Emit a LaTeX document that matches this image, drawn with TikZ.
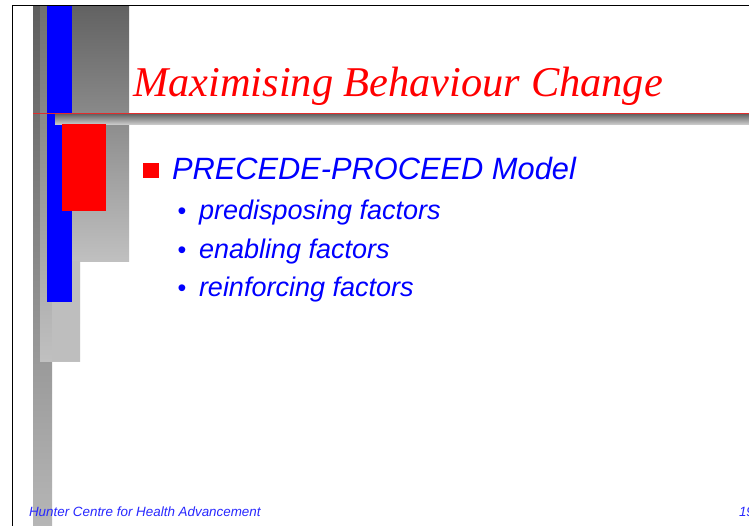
\documentclass[tikz,border=0pt]{standalone}
\usepackage{fontspec}
\setmainfont{Liberation Serif}
\setsansfont{Liberation Sans}
\definecolor{titlered}{RGB}{255,0,0}
\definecolor{textblue}{RGB}{0,0,255}
\definecolor{footblue}{RGB}{40,40,255}
\definecolor{redline}{RGB}{225,45,45}
\definecolor{gA}{RGB}{94,94,94}
\definecolor{gAb}{RGB}{182,182,182}
\definecolor{gB}{RGB}{112,112,112}
\definecolor{gBb}{RGB}{192,192,192}
\definecolor{gC}{RGB}{98,98,98}
\definecolor{gCb}{RGB}{192,192,192}
\definecolor{gD}{RGB}{190,190,190}
\definecolor{gE}{RGB}{100,100,100}
\definecolor{gEb}{RGB}{200,200,200}
\begin{document}
\begin{tikzpicture}[x=1pt,y=-1pt,
  txt/.style={inner sep=0pt, outer sep=0pt, anchor=base west},
  titletext/.style={txt, text=titlered, font=\fontsize{42.4}{43}\selectfont\itshape},
  headtext/.style={txt, text=textblue, font=\sffamily\itshape\fontsize{30.8}{31}\selectfont},
  itemtext/.style={txt, text=textblue, font=\sffamily\itshape\fontsize{27}{28}\selectfont},
  dotmark/.style={txt, text=textblue, font=\sffamily\fontsize{25}{25}\selectfont},
  foottext/.style={txt, text=footblue, font=\sffamily\itshape\fontsize{13.4}{14}\selectfont}
]
\useasboundingbox (0,0) rectangle (749,525);
\clip (0,0) rectangle (749,525);
\fill[white] (0,0) rectangle (749,525);
% frame
\draw[black, line width=1pt] (12,526) -- (12,5) -- (750,5);
% grey panels
\shade[top color=gA, bottom color=gAb] (33,6) rectangle (52,526);
\shade[top color=gB, bottom color=gBb] (40,6) rectangle (80,361);
\shade[top color=gC, bottom color=gCb] (47,6) rectangle (129,261);
\fill[gD] (52,261) rectangle (80,361);
% blue bar
\fill[blue] (47,6) rectangle (72,302);
% shadow bar under the rule
\shade[top color=gE, bottom color=gEb] (55,114) rectangle (750,124);
% red rule
\draw[redline, line width=1.2pt] (33,113.8) -- (750,113.8);
% red block
\fill[red] (62,124) rectangle (106,211);
% title
\node[titletext] (title) at (133,96) {Maximising Behaviour Change};
% main bullet
\fill[red] (143,163) rectangle (159,178);
\node[headtext] (head) at (172,179) {PRECEDE-PROCEED Model};
% sub items
\node[dotmark] (d1) at (177.5,219.5) {•};
\node[itemtext] (i1) at (199,219.5) {predisposing factors};
\node[dotmark] (d2) at (177.5,258.5) {•};
\node[itemtext] (i2) at (199,258.5) {enabling factors};
\node[dotmark] (d3) at (177.5,296.5) {•};
\node[itemtext] (i3) at (199,296.5) {reinforcing factors};
% footer
\node[foottext] (foot) at (29,516) {Hunter Centre for Health Advancement};
\node[foottext] (page) at (739,516) {19};
\end{tikzpicture}
\end{document}
